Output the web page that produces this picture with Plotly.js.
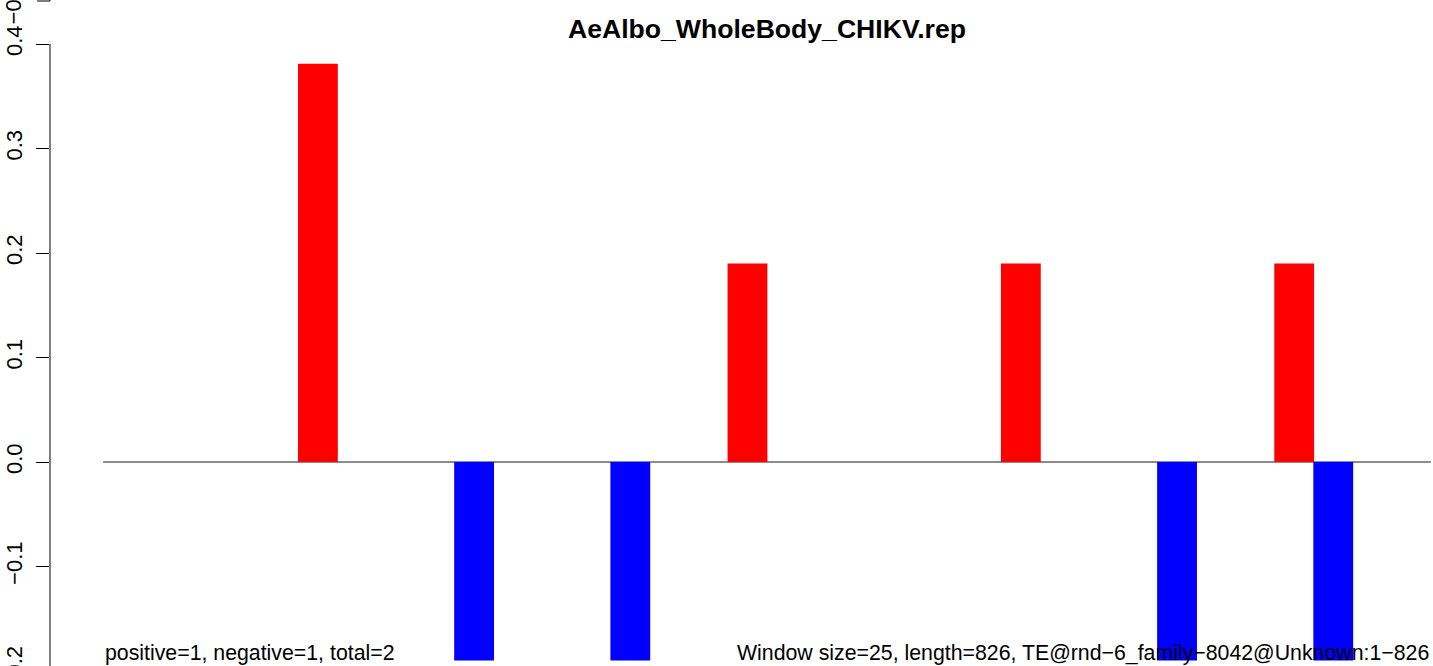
<!DOCTYPE html>
<html>
<head>
<meta charset="utf-8">
<script src="https://cdn.plot.ly/plotly-3.0.1.min.js"></script>
<style>
html,body{margin:0;padding:0;overflow:hidden;background:#fff;width:1433px;height:666px;}
#chart{position:absolute;left:0;top:-60px;width:1500px;height:800px;}
</style>
</head>
<body>
<div id="chart"></div>
<script>
// Window start positions (bp), window size 25
const windowStart = [125, 225, 325, 400, 575, 675, 750, 775];
const windowSize = 25;
const seqLength = 850;   // 34 windows x 25 bp
const scores = [0.381, -0.19, -0.19, 0.19, 0.19, -0.19, 0.19, -0.19];
const yTicks = [-0.2, -0.1, 0.0, 0.1, 0.2, 0.3, 0.4];
const yTickText = ["\u22120.2", "\u22120.1", "0.0", "0.1", "0.2", "0.3", "0.4"];
const titleText = "AeAlbo_WholeBody_CHIKV.rep";
const leftNote = "positive=1, negative=1, total=2";
const rightNote = "Window size=25, length=826, TE@rnd\u22126_family\u22128042@Unknown:1\u2212826";
const abovePanelTick = "\u22120.2";

const mids = windowStart.map(s => s + windowSize / 2);
const colors = scores.map(v => v >= 0 ? "#FF0000" : "#0000FF");

const FONT = "Liberation Sans, Arial, Helvetica, sans-serif";

const trace = {
  type: "bar",
  x: mids,
  y: scores,
  width: windowSize * 1.02,
  marker: {color: colors, line: {width: 0}},
  hoverinfo: "x+y"
};

const layout = {
  width: 1500,
  height: 800,
  margin: {l: 50, r: 16, t: 60, b: 24},
  paper_bgcolor: "#fff",
  plot_bgcolor: "#fff",
  showlegend: false,
  font: {family: FONT, size: 22, color: "#000"},
  xaxis: {
    range: [-34, 884],
    showgrid: false, zeroline: false, showline: false,
    showticklabels: false, ticks: ""
  },
  yaxis: {
    range: [-0.24306, 0.44211],
    showgrid: false, zeroline: false, showline: false,
    tickmode: "array", tickvals: yTicks, ticktext: yTickText,
    ticks: "outside", ticklen: 13, tickwidth: 1, tickcolor: "#000",
    tickangle: -90,
    ticklabelstandoff: 5,
    tickfont: {family: FONT, size: 22, color: "#000"}
  },
  shapes: [
    // y axis line from first to last tick
    {type: "line", xref: "paper", yref: "y", x0: 0, x1: 0, y0: yTicks[0], y1: yTicks[yTicks.length - 1],
     line: {color: "#000", width: 1}},
    // baseline at zero
    {type: "line", xref: "x", yref: "y", x0: 0, x1: seqLength, y0: 0, y1: 0, layer: "below",
     line: {color: "#666", width: 1.5}},
    // tick of the panel above
    {type: "line", xref: "paper", yref: "paper", x0: -13 / 1434, x1: 0, y0: 0.9986, y1: 0.9986,
     line: {color: "#000", width: 1}},
    {type: "line", xref: "paper", yref: "paper", x0: 0, x1: 0, y0: 0.9986, y1: 1.05,
     line: {color: "#000", width: 1}}
  ],
  annotations: [
    {text: "<b>" + titleText + "</b>", xref: "paper", yref: "y", x: 0.5, y: 0.4142,
     xanchor: "center", yanchor: "middle", showarrow: false,
     font: {family: FONT, size: 26.6, color: "#000"}},
    {text: leftNote, xref: "x", yref: "y", x: 0, y: -0.1828,
     xanchor: "left", yanchor: "middle", showarrow: false,
     font: {family: FONT, size: 21.3, color: "#000"}},
    {text: rightNote, xref: "x", yref: "y", x: seqLength, y: -0.1828,
     xanchor: "right", yanchor: "middle", showarrow: false,
     font: {family: FONT, size: 21.3, color: "#000"}},
    {text: abovePanelTick, xref: "paper", yref: "paper", x: -0.0255, y: 0.9958,
     xanchor: "center", yanchor: "middle", textangle: -90, showarrow: false,
     font: {family: FONT, size: 22, color: "#000"}}
  ]
};

Plotly.newPlot("chart", [trace], layout, {displayModeBar: false, staticPlot: true});
</script>
</body>
</html>
